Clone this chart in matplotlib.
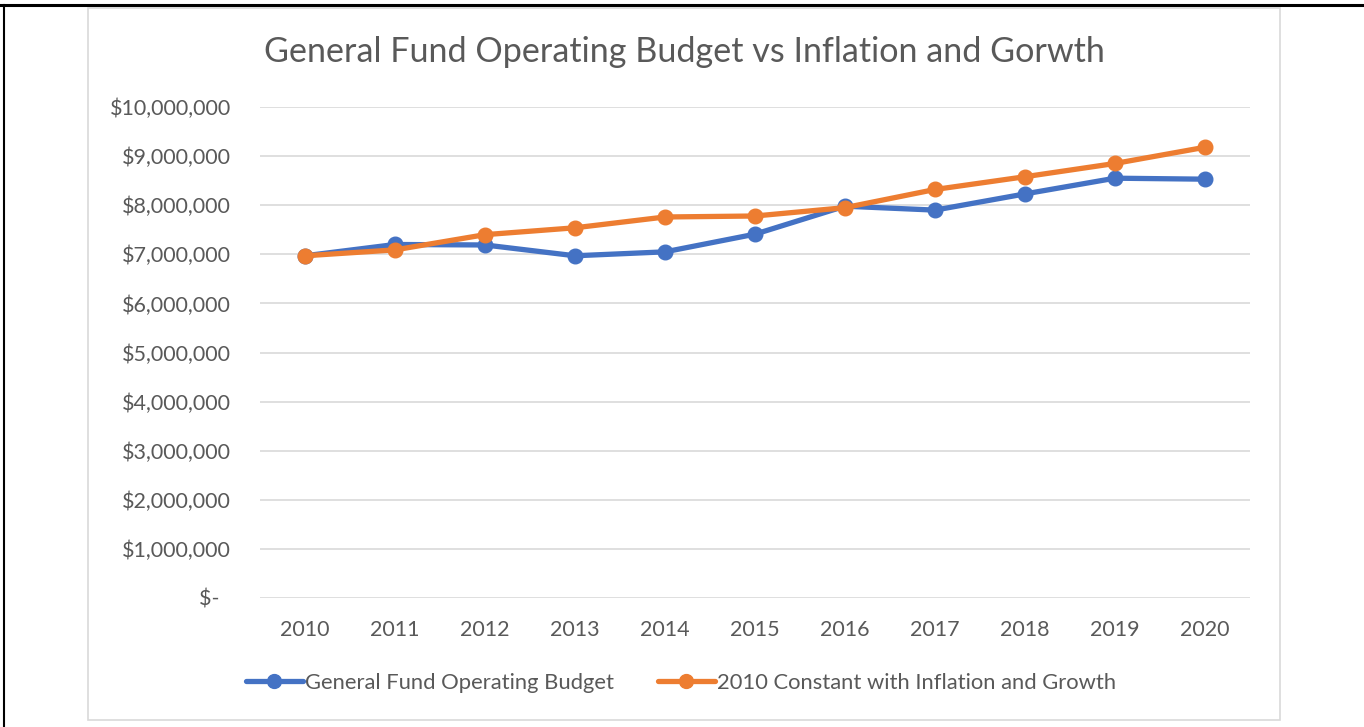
import matplotlib.pyplot as plt
from matplotlib.patches import Rectangle
from matplotlib.lines import Line2D

years = ['2010', '2011', '2012', '2013', '2014', '2015', '2016', '2017', '2018', '2019', '2020']
budget = [6970000, 7200000, 7190000, 6970000, 7050000, 7410000, 7980000, 7900000, 8230000, 8550000, 8530000]
constant = [6970000, 7090000, 7400000, 7540000, 7760000, 7780000, 7950000, 8320000, 8580000, 8850000, 9180000]
yticks = [0, 1000000, 2000000, 3000000, 4000000, 5000000, 6000000, 7000000, 8000000, 9000000, 10000000]

plt.rcParams['font.family'] = ['Lato', 'DejaVu Sans']
txt = '#595959'

fig = plt.figure(figsize=(13.64, 7.27), dpi=100)

# outer black frame lines and light gray chart border
fig.add_artist(Line2D([0, 1], [1 - 4.5 / 727, 1 - 4.5 / 727], color='black', lw=2.2))
fig.add_artist(Line2D([3.5 / 1364, 3.5 / 1364], [0, 1 - 4.5 / 727], color='black', lw=1.5))
fig.add_artist(Rectangle((88 / 1364, 1 - 720 / 727), (1280 - 88) / 1364, (720 - 8) / 727,
                         fill=False, edgecolor='#D9D9D9', lw=1.2))

ax = fig.add_axes([260 / 1364, 1 - 598 / 727, 990 / 1364, 491 / 727])
x = range(len(years))
ax.plot(x, budget, color='#4472C4', lw=3.8, marker='o', ms=10.5, label='General Fund Operating Budget',
        solid_capstyle='round', zorder=3)
ax.plot(x, constant, color='#ED7D31', lw=3.8, marker='o', ms=10.5, label='2010 Constant with Inflation and Growth',
        solid_capstyle='round', zorder=4)

ax.set_xlim(-0.5, len(years) - 0.5)
ax.set_ylim(0, 10000000)
ax.set_xticks(list(x))
ax.set_xticklabels(years)
ax.set_yticks(yticks)
ax.set_yticklabels(['$-  ' if v == 0 else '${:,.0f}'.format(v) for v in yticks])
ax.grid(axis='y', color='#D9D9D9', lw=1.2)
ax.set_axisbelow(True)
for s in ax.spines.values():
    s.set_visible(False)
ax.tick_params(length=0, labelsize=15.5, labelcolor=txt)
ax.tick_params(axis='y', pad=21)
ax.tick_params(axis='x', pad=16)

fig.text(684 / 1364, 1 - 52 / 727, 'General Fund Operating Budget vs Inflation and Gorwth',
         ha='center', va='center', fontsize=24.6, color=txt)

leg = fig.legend(loc='center', bbox_to_anchor=(681 / 1364, 1 - 683 / 727), ncol=2, frameon=False,
                 fontsize=15.8, handlelength=2.6, handletextpad=0.1, columnspacing=2.0, markerscale=0.95)
for t in leg.get_texts():
    t.set_color(txt)

fig.savefig('out.png', dpi=100)
